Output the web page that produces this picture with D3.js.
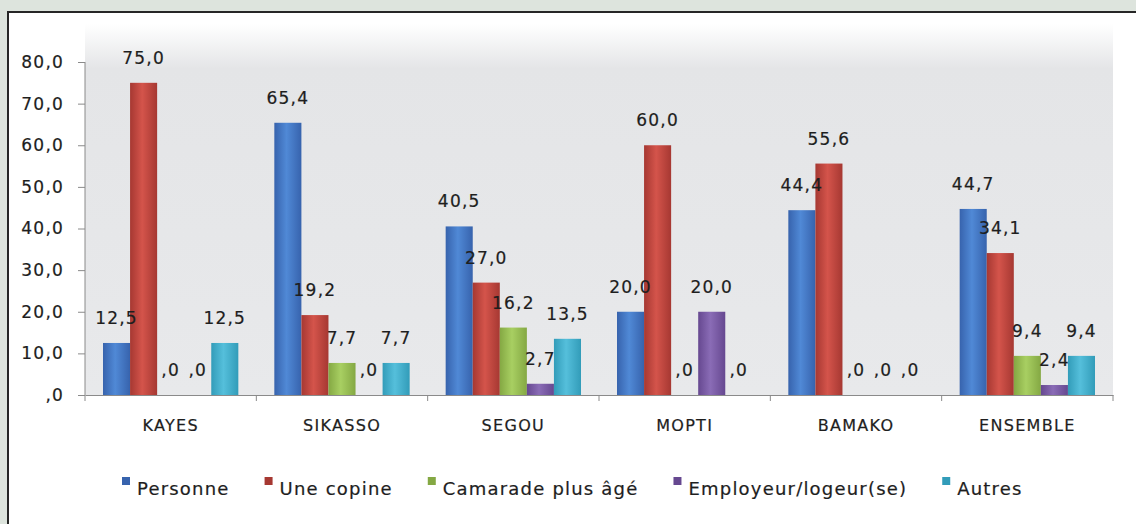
<!DOCTYPE html>
<html>
<head>
<meta charset="utf-8">
<script src="https://cdn.jsdelivr.net/npm/d3@7"></script>
<style>
	body { margin: 0; background: #dde4dd; }
	svg { display: block; }
	text { font-family: 'DejaVu Sans', sans-serif; fill: #1e1e1e; stroke: #1e1e1e; stroke-width: 0.2px; }
</style>
</head>
<body>
<div id="canvas"></div>
<script>
const categories = ['KAYES', 'SIKASSO', 'SEGOU', 'MOPTI', 'BAMAKO', 'ENSEMBLE'];
const seriesNames = ['Personne', 'Une copine', 'Camarade plus âgé', 'Employeur/logeur(se)', 'Autres'];
const personne = [12.5, 65.4, 40.5, 20.0, 44.4, 44.7];
const uneCopine = [75.0, 19.2, 27.0, 60.0, 55.6, 34.1];
const camarade = [0, 7.7, 16.2, 0, 0, 9.4];
const employeur = [0, 0, 2.7, 20.0, 0, 2.4];
const autres = [12.5, 7.7, 13.5, 0, 0, 9.4];
const yTicks = [0, 10, 20, 30, 40, 50, 60, 70, 80];

const seriesValues = [personne, uneCopine, camarade, employeur, autres];
const colors = [
	['#3763ad', '#5089d6'],
	['#a63832', '#d4544b'],
	['#84a843', '#a8cf62'],
	['#664890', '#8a6cb6'],
	['#329cb9', '#55bfdb']
];

const w = 1136;
const h = 524;

const svg = d3.select('#canvas')
	.append('svg')
	.attr('width', w)
	.attr('height', h);

const defs = svg.append('defs');

// plot area background
const bg = defs.append('linearGradient')
	.attr('id', 'bg')
	.attr('x1', 0).attr('y1', 0).attr('x2', 0).attr('y2', 1);
bg.append('stop').attr('offset', '0%').attr('stop-color', '#ffffff');
bg.append('stop').attr('offset', '12%').attr('stop-color', '#e4e5e7');
bg.append('stop').attr('offset', '100%').attr('stop-color', '#e8e9eb');

colors.forEach((c, i) => {
	const g = defs.append('linearGradient')
		.attr('id', 'bar' + i)
		.attr('x1', 0).attr('y1', 0).attr('x2', 1).attr('y2', 0);
	g.append('stop').attr('offset', '0%').attr('stop-color', c[0]);
	g.append('stop').attr('offset', '45%').attr('stop-color', c[1]);
	g.append('stop').attr('offset', '100%').attr('stop-color', c[0]);
});

// white frame
svg.append('rect')
	.attr('x', 8)
	.attr('y', 12)
	.attr('width', w)
	.attr('height', h)
	.attr('fill', '#ffffff')
	.attr('stroke', '#262626')
	.attr('stroke-width', 2);

const x0 = d3.scaleBand()
	.domain(categories)
	.range([85, 1113]);

const x1 = d3.scaleBand()
	.domain(seriesNames)
	.range([18, x0.bandwidth() - 18]);

const y = d3.scaleLinear()
	.domain([0, 80])
	.range([395, 62]);

svg.append('rect')
	.attr('x', 85)
	.attr('y', 24)
	.attr('width', 1028)
	.attr('height', 371)
	.attr('fill', 'url(#bg)');

const fmt = v => v === 0 ? ',0' : d3.format('.1f')(v).replace('.', ',');

const data = categories.map((c, ci) => ({
	cat: c,
	values: seriesNames.map((s, si) => ({ name: s, i: si, value: seriesValues[si][ci] }))
}));

const groups = svg.append('g')
	.selectAll('g')
	.data(data)
	.enter()
	.append('g')
	.attr('transform', d => 'translate(' + x0(d.cat) + ',0)');

groups.selectAll('rect')
	.data(d => d.values)
	.enter()
	.append('rect')
	.attr('x', d => x1(d.name))
	.attr('y', d => y(d.value))
	.attr('width', x1.bandwidth())
	.attr('height', d => y(0) - y(d.value))
	.attr('fill', d => 'url(#bar' + d.i + ')');

groups.selectAll('text')
	.data(d => d.values)
	.enter()
	.append('text')
	.attr('x', d => x1(d.name) + x1.bandwidth() / 2)
	.attr('y', d => y(d.value) - 19)
	.attr('text-anchor', 'middle')
	.style('font-size', '17px')
	.style('letter-spacing', '1.2px')
	.text(d => fmt(d.value));

// y axis
const yAxis = svg.append('g')
	.attr('transform', 'translate(85,0)')
	.call(d3.axisLeft(y).tickValues(yTicks).tickSize(7).tickPadding(14).tickFormat(fmt));
yAxis.select('.domain').attr('stroke', '#8a8a8a').attr('d', 'M0,' + y(80) + 'V' + y(0));
yAxis.selectAll('.tick line').attr('stroke', '#8a8a8a');
yAxis.selectAll('.tick text')
	.style('font-size', '17px')
	.style('letter-spacing', '1.2px')
	.style('font-family', "'DejaVu Sans', sans-serif")
	.attr('fill', '#1e1e1e');

// x axis
const xAxis = svg.append('g')
	.attr('transform', 'translate(0,' + y(0) + ')')
	.call(d3.axisBottom(x0).tickSize(0).tickPadding(25));
xAxis.select('.domain').attr('stroke', '#8a8a8a');
xAxis.selectAll('.tick text')
	.style('font-size', '16px')
	.style('letter-spacing', '1.3px')
	.style('font-family', "'DejaVu Sans', sans-serif")
	.attr('fill', '#1e1e1e');

svg.append('g')
	.selectAll('line')
	.data(categories.concat(['end']))
	.enter()
	.append('line')
	.attr('x1', (d, i) => 85 + i * x0.step())
	.attr('x2', (d, i) => 85 + i * x0.step())
	.attr('y1', y(0))
	.attr('y2', y(0) + 6)
	.attr('stroke', '#8a8a8a');

// legend
const legend = svg.append('g')
	.attr('transform', 'translate(122,495)');

let lx = 0;
seriesNames.forEach((s, i) => {
	legend.append('rect')
		.attr('x', lx)
		.attr('y', -18)
		.attr('width', 8)
		.attr('height', 8)
		.attr('fill', colors[i][0]);
	const t = legend.append('text')
		.attr('x', lx + 15)
		.attr('y', 0)
		.style('font-size', '18px')
		.style('letter-spacing', '1.2px')
		.text(s);
	lx += 15 + t.node().getComputedTextLength() + 35;
});
</script>
</body>
</html>
